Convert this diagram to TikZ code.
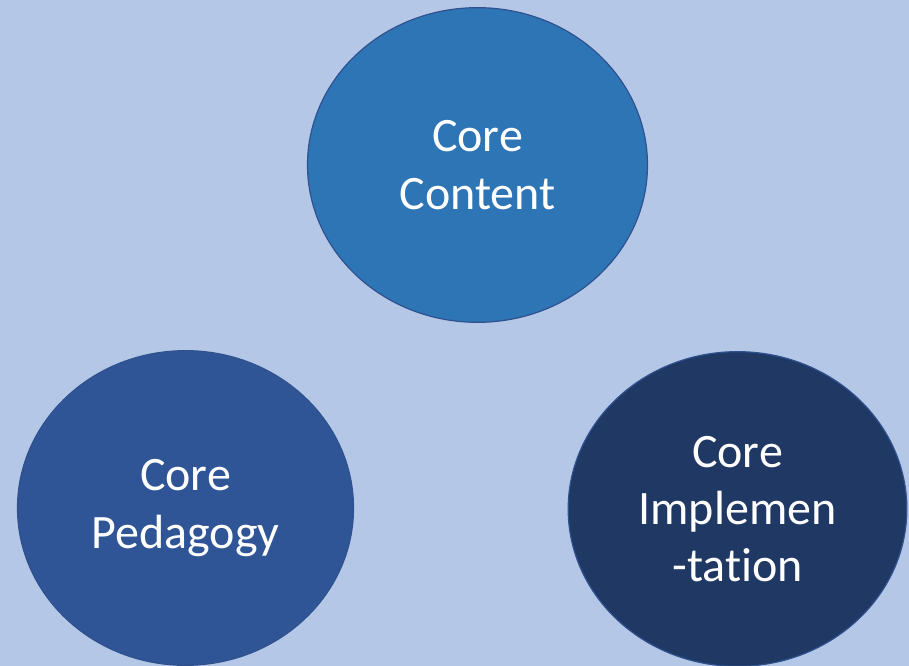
\documentclass[tikz,border=0pt]{standalone}
\usepackage{fontspec}
\setmainfont[Ligatures={NoCommon}]{Carlito}
\usepackage{xcolor}
\usetikzlibrary{shapes.geometric}
\definecolor{bgblue}{HTML}{B4C7E7}
\definecolor{contentblue}{HTML}{2E75B6}
\definecolor{pedagogyblue}{HTML}{2F5597}
\definecolor{implblue}{HTML}{203864}
\definecolor{rimblue}{HTML}{2F528F}
\begin{document}
\begin{tikzpicture}[x=0.75pt,y=-0.75pt,%
% common options for the three ovals:
oval/.style = {ellipse, draw=rimblue, line width=0.9pt, align=center,
            text=white, inner sep=0,
            font=\fontsize{36}{43}\selectfont}]
\fill[bgblue] (0,0) rectangle (909,666);
\useasboundingbox (0,0) rectangle (909,666);
\node[oval,fill=contentblue,minimum width=255pt,minimum height=236pt] (C) at (477.5,165) {Core\\Content};
\node[oval,fill=pedagogyblue,minimum width=252pt,minimum height=236pt] (P) at (185.5,508) {Core\\Pedagogy};
\node[oval,fill=implblue,minimum width=254pt,minimum height=236pt] (I) at (737.5,509) {Core\\Implemen\\-tation};
\end{tikzpicture}
\end{document}
